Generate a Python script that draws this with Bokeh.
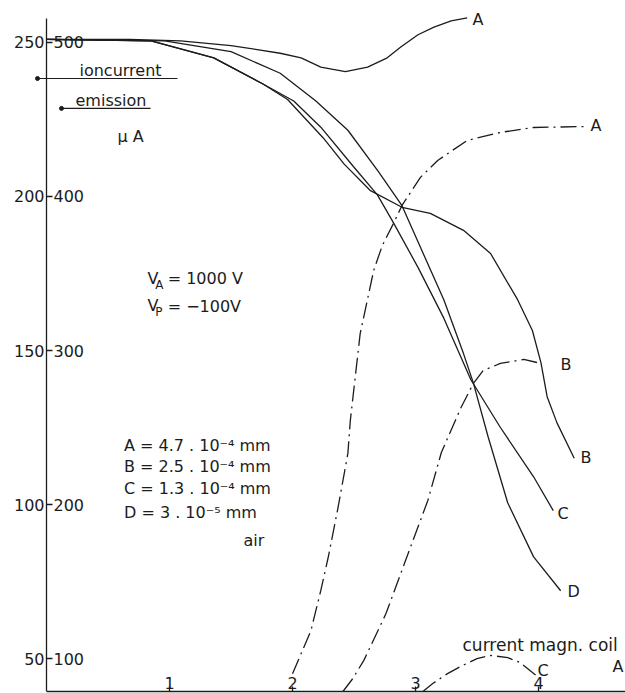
from bokeh.plotting import figure
from bokeh.models import Range1d, FixedTicker, Label, Arrow
from bokeh.embed import file_html
from bokeh.resources import INLINE

FONT = "DejaVu Sans"
INK = "#1c1c1c"

# ---- axis ticks -------------------------------------------------------
x_ticks = [1, 2, 3, 4]                       # current magn. coil (A)
ion_ticks = [50, 100, 150, 200, 250]         # left numbers (ioncurrent, uA)
ion_tick_labels = ["50", "100", "150", "200", "250"]
em_tick_labels = ["100", "200", "300", "400", "500"]   # right numbers (emission, uA)

# ---- emission (solid), read on the 100..500 scale ---------------------
em_A_x = [0.0, 0.68, 1.09, 1.50, 1.90, 2.07, 2.23, 2.43, 2.61, 2.77, 2.88, 3.02, 3.15, 3.29, 3.42]
em_A_y = [502, 502, 501, 498, 493, 490, 484, 481, 484, 490, 497, 505, 510, 514, 516]

em_B_x = [0.0, 0.85, 1.36, 1.76, 1.96, 2.25, 2.42, 2.63, 2.89, 3.12, 3.39, 3.61, 3.83, 3.95, 4.02, 4.07, 4.15, 4.29]
em_B_y = [502, 501, 490, 473, 463, 438, 421, 404, 393, 389, 378, 363, 333, 313, 292, 270, 253, 230]

em_C_x = [0.0, 0.85, 1.36, 1.76, 2.01, 2.23, 2.50, 2.69, 2.82, 3.02, 3.23, 3.45, 3.69, 3.96, 4.12]
em_C_y = [502, 501, 490, 473, 462, 445, 419, 401, 383, 354, 321, 281, 250, 218, 196]

em_D_x = [0.0, 0.96, 1.50, 1.90, 2.19, 2.45, 2.70, 2.89, 3.04, 3.23, 3.39, 3.47, 3.59, 3.75, 3.96, 4.18]
em_D_y = [502, 501, 494, 480, 462, 443, 416, 394, 367, 333, 298, 279, 244, 201, 166, 144]

# ---- ioncurrent (dash-dot), read on the 50..250 scale -----------------
ion_A_x = [2.00, 2.07, 2.15, 2.23, 2.29, 2.37, 2.45, 2.47, 2.55, 2.66, 2.73, 2.82, 2.89, 3.04, 3.18, 3.42, 3.69, 3.96, 4.37]
ion_A_y = [45.1, 51.6, 59.1, 72.1, 82.8, 99.0, 116.6, 127.3, 155.5, 176.0, 184.1, 191.2, 197.1, 206.2, 211.7, 218.2, 220.8, 222.4, 222.7]

ion_B_x = [2.41, 2.49, 2.58, 2.76, 2.94, 3.10, 3.21, 3.37, 3.47, 3.55, 3.69, 3.88, 4.02]
ion_B_y = [39.3, 43.5, 49.4, 64.6, 84.1, 101.3, 116.9, 131.5, 139.3, 143.5, 145.8, 147.1, 145.8]

ion_C_x = [3.06, 3.14, 3.26, 3.38, 3.50, 3.61, 3.75, 3.85, 3.98]
ion_C_y = [39.3, 41.9, 45.1, 47.7, 50.0, 51.0, 50.3, 48.7, 44.5]

# ---- figure -----------------------------------------------------------
Y0, Y1 = 39.3, 262.0
p = figure(width=625, height=693,
           x_range=Range1d(-0.3333, 4.707), y_range=Range1d(Y0, Y1),
           output_backend="svg", toolbar_location=None,
           min_border_left=5, min_border_right=0,
           min_border_top=5, min_border_bottom=2)
p.extra_y_ranges = {"em": Range1d(2 * Y0, 2 * Y1)}
p.grid.visible = False
p.outline_line_color = None
p.background_fill_color = "white"
p.border_fill_color = "white"

ya = p.yaxis[0]
ya.fixed_location = 0
ya.bounds = (Y0, 257.8)
ya.ticker = FixedTicker(ticks=ion_ticks)
ya.major_label_overrides = {t: "" for t in ion_ticks}
ya.major_tick_in = 6
ya.major_tick_out = 0
ya.minor_tick_line_color = None
ya.axis_line_width = 1.3
ya.axis_line_color = INK
ya.major_tick_line_width = 1.3
ya.major_tick_line_color = INK
ya.major_label_standoff = 0

xa = p.xaxis[0]
xa.bounds = (0, 4.707)
xa.ticker = FixedTicker(ticks=x_ticks)
xa.major_tick_in = 5
xa.major_tick_out = 0
xa.minor_tick_line_color = None
xa.axis_line_width = 1.3
xa.axis_line_color = INK
xa.major_tick_line_width = 1.3
xa.major_tick_line_color = INK
xa.major_label_standoff = -15
xa.major_label_text_font = FONT
xa.major_label_text_font_size = "16px"
xa.major_label_text_color = INK

# double scale numbers: ioncurrent left of the axis line, emission right of it
for t, left_lab, right_lab in zip(ion_ticks, ion_tick_labels, em_tick_labels):
    p.add_layout(Label(x=0, y=t, x_offset=-2, text=left_lab, text_font=FONT,
                       text_font_size="16px", text_color=INK,
                       text_baseline="middle", text_align="right"))
    p.add_layout(Label(x=0, y=t, x_offset=7, text=right_lab, text_font=FONT,
                       text_font_size="16px", text_color=INK,
                       text_baseline="middle", text_align="left"))

# ---- curves -----------------------------------------------------------
for xs, ys in [(em_A_x, em_A_y), (em_B_x, em_B_y), (em_C_x, em_C_y), (em_D_x, em_D_y)]:
    p.line(xs, ys, y_range_name="em", line_color=INK, line_width=1.3)

for xs, ys in [(ion_A_x, ion_A_y), (ion_B_x, ion_B_y), (ion_C_x, ion_C_y)]:
    p.line(xs, ys, line_color=INK, line_width=1.3, line_dash="16 5 2 5")

# ---- key ---------------------------------------------------------------
def key_line(x0, x1, y):
    p.add_layout(Arrow(end=None, x_start=x0, y_start=y, x_end=x1, y_end=y,
                       line_color=INK, line_width=1.2))

key_line(-0.073, 1.065, 238.3)
key_line(0.122, 0.846, 228.6)
p.scatter([-0.073, 0.122], [238.3, 228.6], size=4, color=INK)

def txt(x, y, s, size="16px", align="left"):
    p.add_layout(Label(x=x, y=y, text=s, text_font=FONT, text_font_size=size,
                       text_color=INK, text_baseline="middle", text_align=align))

txt(0.268, 240.9, "ioncurrent")
txt(0.236, 231.2, "emission")
txt(0.577, 219.5, "\u03bc A")

# V_A and V_P
txt(0.821, 173.4, "V")
txt(0.885, 171.4, "A", size="12px")
txt(0.985, 173.4, "= 1000 V")
txt(0.821, 164.6, "V")
txt(0.885, 162.6, "P", size="12px")
txt(0.985, 164.4, "= \u2212100V")

txt(0.630, 119.0, "A = 4.7 . 10\u207b\u2074 mm")
txt(0.630, 112.3, "B = 2.5 . 10\u207b\u2074 mm")
txt(0.630, 105.2, "C = 1.3 . 10\u207b\u2074 mm")
txt(0.630, 97.4, "D = 3   . 10\u207b\u2075 mm")
txt(1.602, 88.3, "air")

# curve letters
txt(3.463, 257.5, "A")
txt(4.423, 223.2, "A")
txt(4.179, 145.5, "B")
txt(4.341, 115.3, "B")
txt(4.154, 97.1, "C")
txt(4.236, 71.8, "D")
txt(3.992, 46.1, "C")

txt(3.382, 54.5, "current magn. coil", size="17px")
txt(4.602, 47.4, "A")

open("out.html", "w").write(file_html(p, INLINE))
